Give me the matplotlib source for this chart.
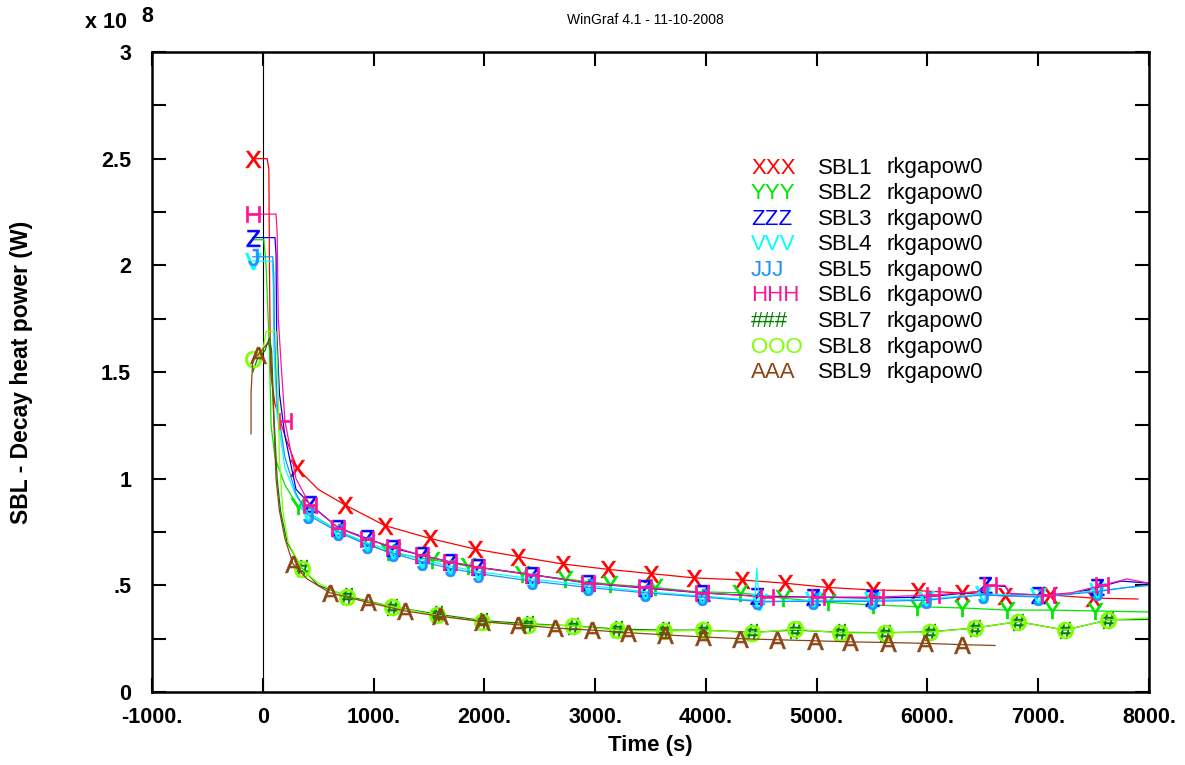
import numpy as np
import matplotlib
matplotlib.use("Agg")
from matplotlib import pyplot as plt

plt.rcParams['font.family'] = ['Liberation Sans', 'DejaVu Sans']
plt.rcParams['mathtext.fontset'] = 'custom'
plt.rcParams['mathtext.rm'] = 'Liberation Sans'
plt.rcParams['mathtext.default'] = 'regular'

# values in units of 1e8 W, time in s
t_sbl1 = [-90, 40, 55, 60, 70, 110, 200, 309, 500, 742, 1103, 1509, 1916, 2304, 2710, 3116, 3504,
          3893, 4326, 4714, 5102, 5508, 5914, 6312, 6700, 7106, 7494, 7900]
p_sbl1 = [2.50, 2.50, 2.45, 2.0, 1.5, 1.35, 1.2, 1.05, 0.95, 0.877, 0.78, 0.72, 0.67, 0.635, 0.60,
          0.575, 0.555, 0.535, 0.525, 0.51, 0.49, 0.478, 0.475, 0.464, 0.45, 0.455, 0.44, 0.436]
mk_sbl1 = [-90, 309, 742, 1103, 1509, 1916, 2304, 2710, 3116, 3504, 3893, 4326, 4714, 5102, 5508,
           5914, 6312, 6700, 7106, 7494]

t_sbl2 = [-90, 10, 30, 60, 75, 110, 200, 318, 700, 1130, 1527, 1852, 2340, 2728, 3134, 3540, 3920,
          4308, 4696, 5102, 5508, 5906, 6312, 6718, 7124, 7512, 8000]
p_sbl2 = [2.12, 2.12, 2.0, 1.6, 1.25, 1.1, 0.97, 0.87, 0.75, 0.655, 0.62, 0.59, 0.555, 0.53, 0.505,
          0.49, 0.47, 0.465, 0.44, 0.42, 0.408, 0.40, 0.394, 0.384, 0.384, 0.38, 0.375]
mk_sbl2 = [318, 1130, 1527, 1852, 2340, 2728, 3134, 3540, 4308, 4696, 5102, 5508, 5906, 6312, 6718,
           7124, 7512]

t_sbl3 = [-90, 110, 120, 125, 150, 200, 300, 426, 680, 940, 1176, 1437, 1690, 1943, 2430, 2936, 3450,
          3974, 4461, 4967, 5500, 5990, 6450, 6520, 6700, 6750, 6998, 7300, 7530, 7750, 8000]
p_sbl3 = [2.13, 2.13, 2.05, 1.7, 1.4, 1.2, 0.95, 0.88, 0.77, 0.72, 0.675, 0.64, 0.61, 0.585, 0.55,
          0.51, 0.487, 0.464, 0.45, 0.445, 0.44, 0.445, 0.47, 0.50, 0.495, 0.46, 0.455, 0.46, 0.49,
          0.52, 0.51]
mk_sbl3 = [-90, 426, 680, 940, 1176, 1437, 1690, 1943, 2430, 2936, 3450, 3974, 4461, 4967, 5500,
           6520, 6998, 7530]

t_sbl4 = [-90, 85, 95, 100, 130, 200, 300, 408, 680, 940, 1176, 1437, 1690, 1943, 2430, 2936, 3450,
          3965, 4440, 4460, 4480, 4967, 5500, 5990, 6500, 7000, 7530, 7800, 8000]
p_sbl4 = [2.02, 2.02, 1.9, 1.6, 1.3, 1.05, 0.92, 0.84, 0.755, 0.70, 0.66, 0.62, 0.59, 0.565, 0.53,
          0.50, 0.47, 0.45, 0.43, 0.58, 0.42, 0.43, 0.43, 0.435, 0.46, 0.45, 0.475, 0.49, 0.50]
mk_sbl4 = [-90, 408, 680, 940, 1176, 1437, 1690, 1943, 2430, 2936, 3450, 3965, 4480, 4967, 5500,
           5990, 6500, 7000, 7530]

t_sbl5 = [-90, 90, 100, 105, 130, 200, 300, 408, 680, 940, 1176, 1437, 1690, 1943, 2430, 2936, 3450,
          3965, 4461, 4967, 5500, 5990, 6500, 7000, 7530, 7800, 8000]
p_sbl5 = [2.04, 2.04, 1.95, 1.7, 1.35, 1.1, 0.93, 0.83, 0.75, 0.69, 0.65, 0.61, 0.58, 0.555, 0.52,
          0.49, 0.465, 0.445, 0.425, 0.425, 0.425, 0.43, 0.455, 0.445, 0.47, 0.49, 0.50]
mk_sbl5 = [-90, 408, 680, 940, 1176, 1437, 1690, 1943, 2430, 2936, 3450, 3965, 4461, 4967, 5500,
           5990, 6500, 7000, 7530]

t_sbl6 = [-90, 120, 130, 140, 170, 200, 300, 426, 680, 940, 1176, 1437, 1690, 1943, 2430, 2936, 3450,
          3965, 4552, 5012, 5545, 6050, 6450, 6565, 6700, 6750, 7088, 7300, 7576, 7800, 8000]
p_sbl6 = [2.24, 2.24, 2.15, 1.75, 1.5, 1.27, 1.0, 0.877, 0.77, 0.715, 0.68, 0.64, 0.61, 0.585, 0.55,
          0.51, 0.49, 0.465, 0.445, 0.445, 0.445, 0.455, 0.47, 0.50, 0.50, 0.46, 0.455, 0.465, 0.50,
          0.53, 0.51]
mk_sbl6 = [-90, 200, 426, 680, 940, 1176, 1437, 1690, 1943, 2430, 2936, 3450, 3965, 4552, 5012, 5545,
           6050, 6565, 7088, 7576]

t_sbl7 = [-90, -50, 20, 60, 80, 100, 130, 160, 220, 354, 500, 760, 1166, 1573, 1979, 2390, 2800,
          3200, 3620, 3974, 4416, 4804, 5210, 5617, 6023, 6430, 6817, 7242, 7630, 8000]
p_sbl7 = [1.50, 1.56, 1.60, 1.66, 1.6, 1.3, 1.0, 0.85, 0.7, 0.58, 0.50, 0.45, 0.40, 0.365, 0.335,
          0.32, 0.31, 0.295, 0.29, 0.29, 0.28, 0.29, 0.28, 0.278, 0.282, 0.30, 0.33, 0.29, 0.338, 0.34]
mk_sbl7 = [354, 760, 1166, 1573, 1979, 2390, 2800, 3200, 3620, 3974, 4416, 4804, 5210, 5617, 6023,
           6430, 6817, 7242, 7630]

t_sbl8 = [-90, 0, 30, 120, 135, 150, 180, 230, 354, 500, 760, 1166, 1573, 1979, 2390, 2800, 3200,
          3620, 3974, 4416, 4804, 5210, 5617, 6023, 6430, 6817, 7242, 7630, 8000]
p_sbl8 = [1.56, 1.60, 1.69, 1.69, 1.5, 1.1, 0.85, 0.7, 0.576, 0.51, 0.445, 0.40, 0.36, 0.33, 0.315,
          0.31, 0.29, 0.285, 0.29, 0.277, 0.295, 0.277, 0.277, 0.281, 0.30, 0.33, 0.29, 0.338, 0.347]
mk_sbl8 = [-90, 354, 760, 1166, 1573, 1979, 2390, 2800, 3200, 3620, 3974, 4416, 4804, 5210, 5617,
           6023, 6430, 6817, 7242, 7630]

t_sbl9 = [-106, -106, -90, -43, 20, 50, 70, 90, 120, 150, 200, 273, 400, 607, 950, 1284, 1600, 1979,
          2304, 2638, 2972, 3297, 3630, 3974, 4308, 4642, 4985, 5300, 5644, 5978, 6312, 6610]
p_sbl9 = [1.21, 1.40, 1.56, 1.58, 1.62, 1.64, 1.6, 1.4, 1.0, 0.85, 0.72, 0.6, 0.53, 0.465, 0.42,
          0.38, 0.355, 0.33, 0.315, 0.30, 0.29, 0.278, 0.268, 0.258, 0.25, 0.245, 0.24, 0.235, 0.232,
          0.228, 0.222, 0.218]
mk_sbl9 = [-43, 273, 607, 950, 1284, 1600, 1979, 2304, 2638, 2972, 3297, 3630, 3974, 4308, 4642,
           4985, 5300, 5644, 5978, 6312]

names = ['SBL1', 'SBL2', 'SBL3', 'SBL4', 'SBL5', 'SBL6', 'SBL7', 'SBL8', 'SBL9']
letters = ['X', 'Y', 'Z', 'V', 'J', 'H', '#', 'O', 'A']
colors = ['#ff0000', '#00e600', '#0000ff', '#00ffff', '#1e90ff', '#ff1493', '#008000', '#7fff00',
          '#8b4513']
times = [t_sbl1, t_sbl2, t_sbl3, t_sbl4, t_sbl5, t_sbl6, t_sbl7, t_sbl8, t_sbl9]
powers = [p_sbl1, p_sbl2, p_sbl3, p_sbl4, p_sbl5, p_sbl6, p_sbl7, p_sbl8, p_sbl9]
marks = [mk_sbl1, mk_sbl2, mk_sbl3, mk_sbl4, mk_sbl5, mk_sbl6, mk_sbl7, mk_sbl8, mk_sbl9]

W, H = 1185, 765
fig = plt.figure(figsize=(W / 100, H / 100), dpi=100)
ax = fig.add_axes([152 / W, 1 - 692 / H, (1149 - 152) / W, (692 - 52) / H])

ax.axvline(0, color='black', lw=0.8, zorder=1)

for t, p, mk, let, c in zip(times, powers, marks, letters, colors):
    idx = [t.index(v) for v in mk]
    sym = r'$\#$' if let == '#' else '$' + let + '$'
    ax.plot(t, p, color=c, lw=0.9, marker=sym, markevery=idx, ms=12, mew=0.5,
            mfc=c, mec=c, zorder=2)

ax.set_xlim(-1000, 8000)
ax.set_ylim(0, 3)
ax.set_xticks(np.arange(-1000, 8001, 1000))
ax.set_xticklabels(['-1000.', '0', '1000.', '2000.', '3000.', '4000.', '5000.', '6000.', '7000.',
                    '8000.'])
yt = np.arange(0, 3.01, 0.25)
ax.set_yticks(yt)
ax.set_yticklabels(['0', '', '.5', '', '1', '', '1.5', '', '2', '', '2.5', '', '3'])
ax.tick_params(direction='in', length=10, width=1.5, top=True, right=True,
               labelsize=15.5)
ax.tick_params(axis='x', pad=11)
ax.tick_params(axis='y', pad=15)
for lab in ax.get_xticklabels() + ax.get_yticklabels():
    lab.set_fontweight('bold')
for s in ax.spines.values():
    s.set_linewidth(1.8)

ax.set_xlabel('Time (s)', fontsize=16, fontweight='bold', labelpad=5)
fig.text(22 / W, 1 - 372 / H, 'SBL - Decay heat power (W)', rotation=90, fontsize=16.5,
         fontweight='bold', ha='center', va='center')
fig.text(106 / W, 1 - 23 / H, 'x 10', fontsize=15.5, fontweight='bold', ha='center', va='center')
fig.text(147 / W, 1 - 16 / H, '8', fontsize=15.5, fontweight='bold', ha='center', va='center')
fig.text(645 / W, 1 - 20 / H, 'WinGraf 4.1 - 11-10-2008', fontsize=10, ha='center', va='center')

# legend as text rows
for i, (nm, let, c) in enumerate(zip(names, letters, colors)):
    y = 1 - (168 + 25.6 * i) / H
    fig.text(751 / W, y, let * 3, color=c, fontsize=16, va='center')
    fig.text(818 / W, y, nm, color='black', fontsize=16, va='center')
    fig.text(887 / W, y, 'rkgapow0', color='black', fontsize=16, va='center')

fig.savefig('out.png', dpi=100)
